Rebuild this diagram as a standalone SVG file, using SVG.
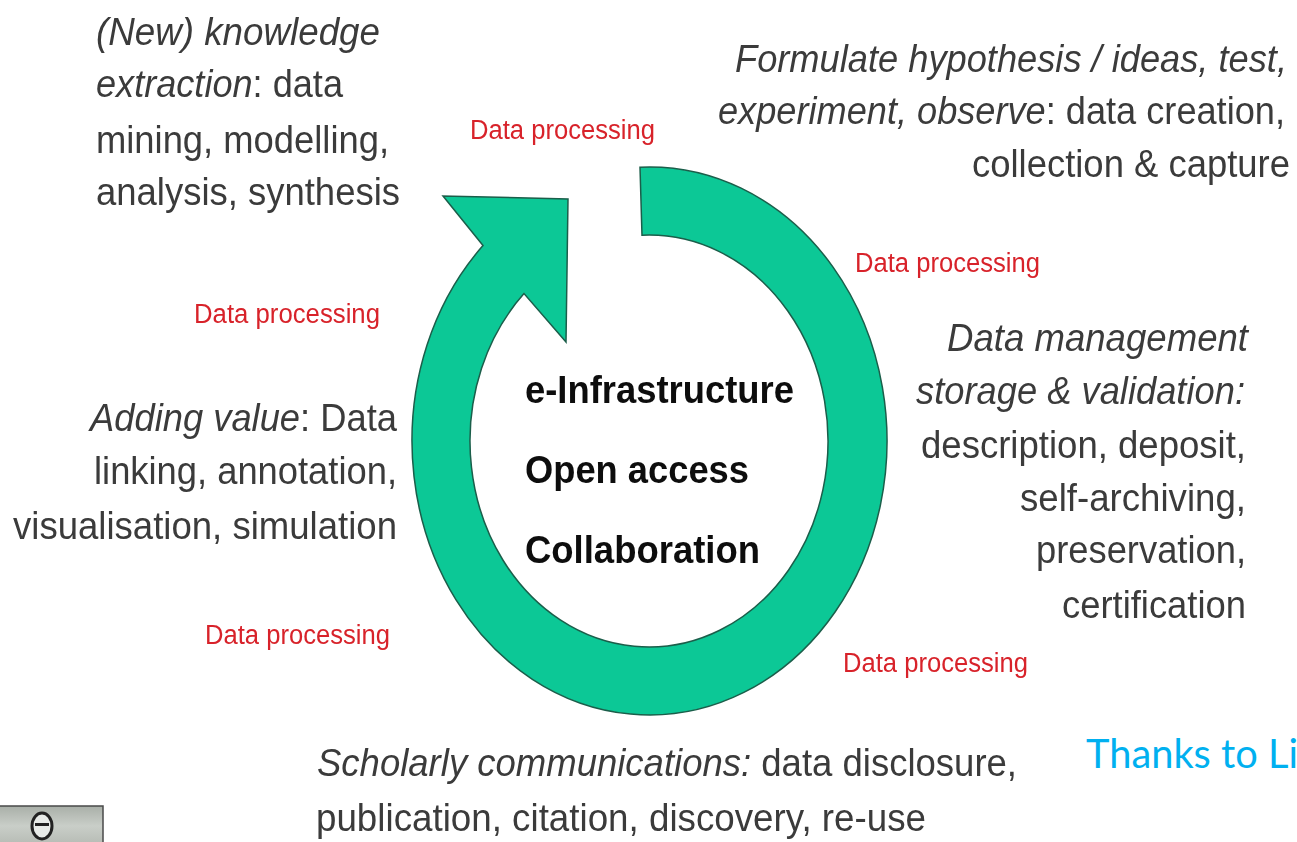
<svg xmlns="http://www.w3.org/2000/svg" width="1297" height="842" viewBox="0 0 1297 842">
<defs>
<style>
text{font-family:"Liberation Sans",Arial,sans-serif}
.b{font-size:38px;fill:#3a3a3a}
.i{font-style:italic}
.r{font-size:27px;fill:#d8232a}
.c{font-size:38px;font-weight:bold;fill:#111}
.soft{filter:url(#soft)}
</style>
<filter id="soft" x="-5%" y="-5%" width="110%" height="110%"><feGaussianBlur stdDeviation="0.5"/></filter>
<linearGradient id="g" x1="0" y1="0" x2="0" y2="1"><stop offset="0" stop-color="#a9afa8"/><stop offset="0.5" stop-color="#c9cec8"/><stop offset="1" stop-color="#b5bab3"/></linearGradient>
</defs>
<rect width="1297" height="842" fill="#fff"/>
<g id="cycle-arrow">
<path d="M640 167.200A237.500 274 0 1 1 483 245.600L443 196L568 199L566 342L524 293.600A179 206 0 1 0 642 235.200Z" fill="#0cc896" stroke="#1b5e4a" stroke-width="1.500" stroke-linejoin="miter"/>
</g>
<g id="centre" class="soft">
<text class="c" x="525" y="403" textLength="269" lengthAdjust="spacingAndGlyphs">e-Infrastructure</text>
<text class="c" x="525" y="483" textLength="224" lengthAdjust="spacingAndGlyphs">Open access</text>
<text class="c" x="525" y="563" textLength="235" lengthAdjust="spacingAndGlyphs">Collaboration</text>
</g>
<g id="knowledge" class="soft">
<text class="b i" x="96" y="45" textLength="284" lengthAdjust="spacingAndGlyphs">(New) knowledge</text>
<text class="b" x="96" y="97" textLength="247" lengthAdjust="spacingAndGlyphs"><tspan class="i">extraction</tspan>: data</text>
<text class="b" x="96" y="153" textLength="293" lengthAdjust="spacingAndGlyphs">mining, modelling,</text>
<text class="b" x="96" y="205" textLength="304" lengthAdjust="spacingAndGlyphs">analysis, synthesis</text>
</g>
<g id="hypothesis" class="soft">
<text class="b i" x="735" y="72" textLength="552" lengthAdjust="spacingAndGlyphs">Formulate hypothesis / ideas, test,</text>
<text class="b" x="718" y="124" textLength="567" lengthAdjust="spacingAndGlyphs"><tspan class="i">experiment, observe</tspan>: data creation,</text>
<text class="b" x="972" y="177" textLength="318" lengthAdjust="spacingAndGlyphs">collection &amp; capture</text>
</g>
<g id="management" class="soft">
<text class="b i" x="947" y="351" textLength="301" lengthAdjust="spacingAndGlyphs">Data management</text>
<text class="b i" x="916" y="404" textLength="329" lengthAdjust="spacingAndGlyphs">storage &amp; validation:</text>
<text class="b" x="921" y="458" textLength="325" lengthAdjust="spacingAndGlyphs">description, deposit,</text>
<text class="b" x="1020" y="511" textLength="226" lengthAdjust="spacingAndGlyphs">self-archiving,</text>
<text class="b" x="1036" y="563" textLength="210" lengthAdjust="spacingAndGlyphs">preservation,</text>
<text class="b" x="1062" y="618" textLength="184" lengthAdjust="spacingAndGlyphs">certification</text>
</g>
<g id="adding-value" class="soft">
<text class="b" x="90" y="431" textLength="307" lengthAdjust="spacingAndGlyphs"><tspan class="i">Adding value</tspan>: Data</text>
<text class="b" x="94" y="484" textLength="303" lengthAdjust="spacingAndGlyphs">linking, annotation,</text>
<text class="b" x="13" y="539" textLength="384" lengthAdjust="spacingAndGlyphs">visualisation, simulation</text>
</g>
<g id="scholarly" class="soft">
<text class="b" x="317" y="776" textLength="700" lengthAdjust="spacingAndGlyphs"><tspan class="i">Scholarly communications:</tspan> data disclosure,</text>
<text class="b" x="316" y="831" textLength="610" lengthAdjust="spacingAndGlyphs">publication, citation, discovery, re-use</text>
</g>
<g id="data-processing" class="soft">
<text class="r" x="470" y="139" textLength="185" lengthAdjust="spacingAndGlyphs">Data processing</text>
<text class="r" x="855" y="272" textLength="185" lengthAdjust="spacingAndGlyphs">Data processing</text>
<text class="r" x="194" y="323" textLength="186" lengthAdjust="spacingAndGlyphs">Data processing</text>
<text class="r" x="205" y="644" textLength="185" lengthAdjust="spacingAndGlyphs">Data processing</text>
<text class="r" x="843" y="672" textLength="185" lengthAdjust="spacingAndGlyphs">Data processing</text>
</g>
<g id="thanks">
<text x="1086" y="768" font-size="41" fill="#00b0f0" textLength="212" lengthAdjust="spacingAndGlyphs" style="font-family:Lato,'Liberation Sans',sans-serif">Thanks to Li</text>
</g>
<g id="licence-badge" class="soft">
<rect x="-2" y="806" width="105" height="40" fill="url(#g)" stroke="#4a4a4a" stroke-width="1.500"/>
<ellipse cx="42" cy="826" rx="10" ry="13" fill="#e8ebe8" stroke="#222" stroke-width="3"/>
<rect x="35" y="823" width="14" height="3" fill="#222"/>
</g>
</svg>
